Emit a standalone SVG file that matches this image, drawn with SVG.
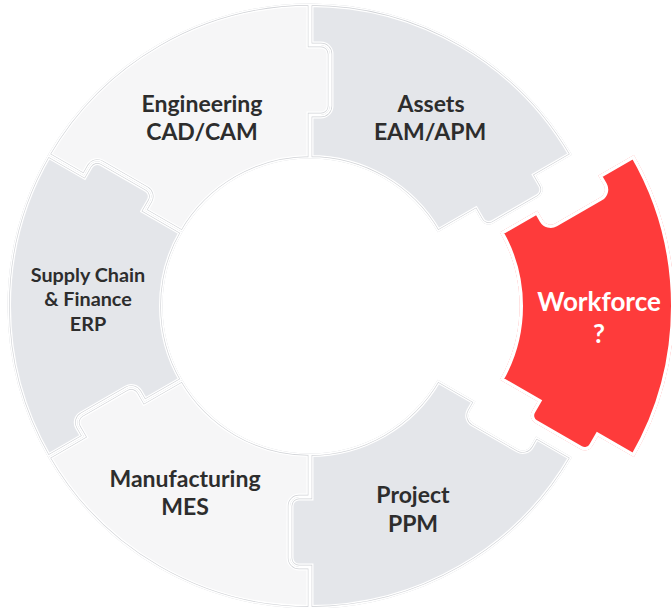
<svg xmlns="http://www.w3.org/2000/svg" xmlns:xlink="http://www.w3.org/1999/xlink" width="672" height="608" viewBox="0 0 672 608">
<style>
.gy{fill:#e4e6ea}
.lt{fill:#f6f6f7}
.rd{fill:#fe3b3b}
.gap{fill:none;stroke:#ffffff;stroke-width:7}
.ol{fill:none;stroke:#cfd1d5;stroke-width:4.4}
.in{fill:none;stroke:#ffffff;stroke-width:3.2}
text{font-family:Lato,"Noto Sans","Liberation Sans",sans-serif;font-weight:700;text-anchor:middle;fill:#2d2d2d}
.big{font-size:23px}
.sm{font-size:19.8px}
.wf{font-size:26px;fill:#ffffff}
</style>
<defs>
<path id="piece" d="M 261.97 -151.25 A 302.5 302.5 0 0 1 261.97 151.25 L 226.033 130.5 L 220.533 140.026 A 9 9 0 0 1 208.239 143.321 L 163.205 117.321 A 9 9 0 0 1 159.911 105.026 L 165.411 95.5 L 127.74 73.75 A 147.5 147.5 0 0 0 127.74 -73.75 L 165.411 -95.5 L 170.911 -85.974 A 9 9 0 0 0 183.205 -82.6795 L 228.239 -108.6795 A 9 9 0 0 0 231.533 -120.974 L 226.033 -130.5 Z"/>
<clipPath id="pc"><use xlink:href="#piece" href="#piece"/></clipPath>
</defs>
<rect width="672" height="608" fill="#ffffff"/>
<g id="engineering">
<g transform="translate(310 306) rotate(-120)"><g clip-path="url(#pc)">
<use href="#piece" class="lt"/><use href="#piece" class="gap"/><use href="#piece" class="ol"/><use href="#piece" class="in"/>
</g></g>
<text class="big" x="202" y="112">Engineering</text>
<text class="big" x="202" y="140">CAD/CAM</text>
</g>
<g id="assets">
<g transform="translate(310 306) rotate(-60)"><g clip-path="url(#pc)">
<use href="#piece" class="gy"/><use href="#piece" class="gap"/><use href="#piece" class="ol"/><use href="#piece" class="in"/>
</g></g>
<text class="big" x="431" y="112">Assets</text>
<text class="big" x="430" y="140">EAM/APM</text>
</g>
<g id="workforce">
<g transform="translate(372 306)"><g clip-path="url(#pc)">
<use href="#piece" class="rd"/><use href="#piece" class="gap"/>
</g></g>
<text class="wf" x="599" y="311">Workforce</text>
<text class="wf" x="599" y="343">?</text>
</g>
<g id="project">
<g transform="translate(310 306) rotate(60)"><g clip-path="url(#pc)">
<use href="#piece" class="gy"/><use href="#piece" class="gap"/><use href="#piece" class="ol"/><use href="#piece" class="in"/>
</g></g>
<text class="big" x="413" y="503">Project</text>
<text class="big" x="413" y="532">PPM</text>
</g>
<g id="manufacturing">
<g transform="translate(310 306) rotate(120)"><g clip-path="url(#pc)">
<use href="#piece" class="lt"/><use href="#piece" class="gap"/><use href="#piece" class="ol"/><use href="#piece" class="in"/>
</g></g>
<text class="big" x="185" y="487">Manufacturing</text>
<text class="big" x="185" y="515">MES</text>
</g>
<g id="supply-chain">
<g transform="translate(310 306) rotate(180)"><g clip-path="url(#pc)">
<use href="#piece" class="gy"/><use href="#piece" class="gap"/><use href="#piece" class="ol"/><use href="#piece" class="in"/>
</g></g>
<text class="sm" x="88" y="282">Supply Chain</text>
<text class="sm" x="88" y="306">&amp; Finance</text>
<text class="sm" x="88" y="331">ERP</text>
</g>
</svg>
